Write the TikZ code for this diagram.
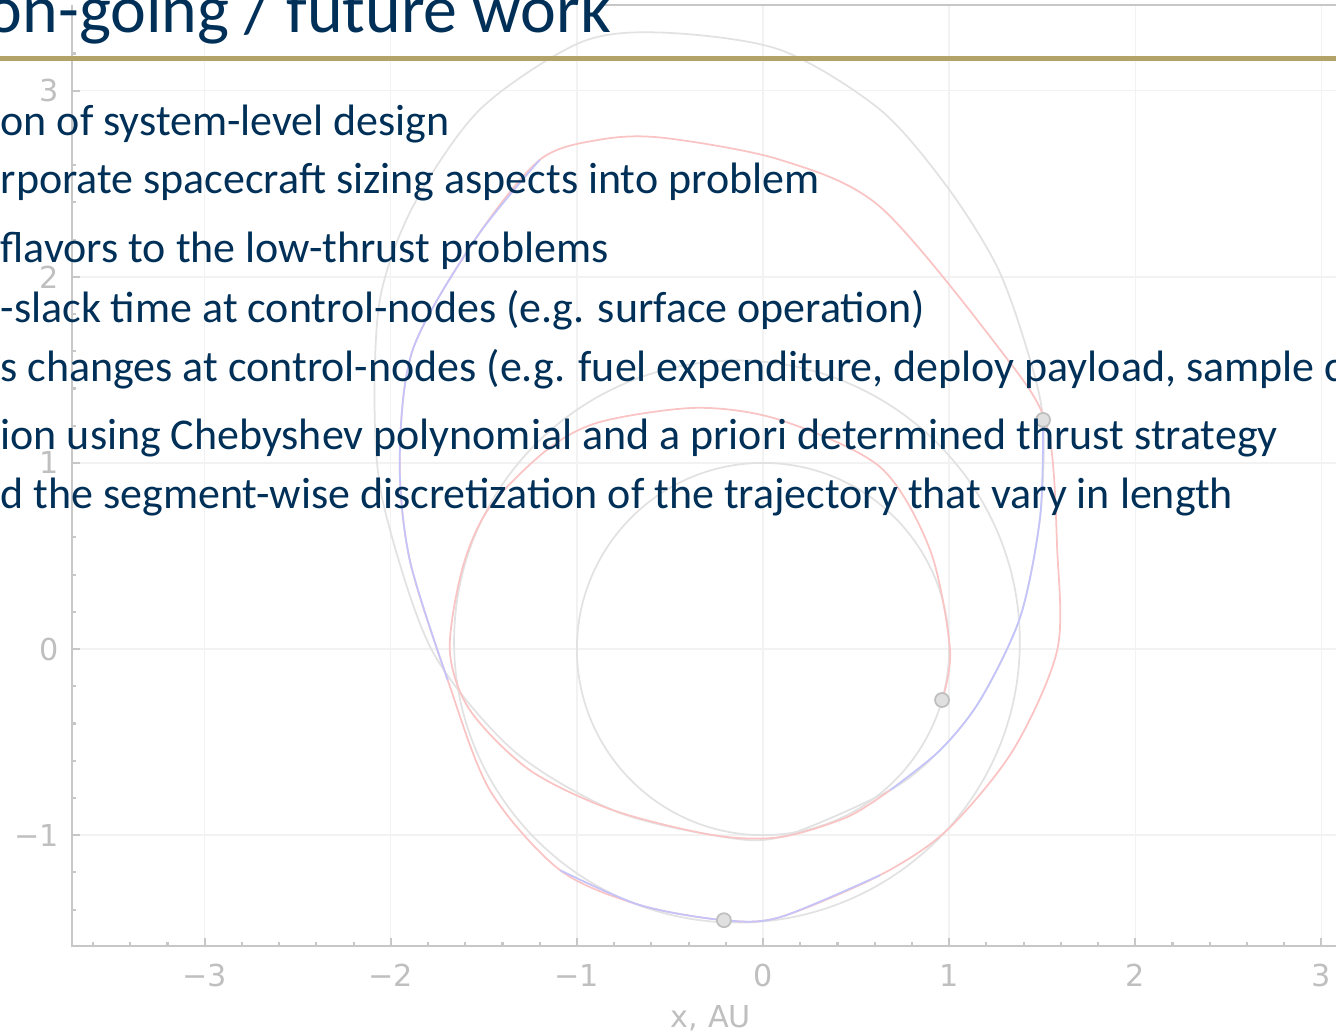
\documentclass[tikz,border=0pt]{standalone}
\usepackage{fontspec}
\setmainfont{Carlito}
\newfontfamily\plotfont{DejaVu Sans}
\usepackage{tikz}
\definecolor{gtnavy}{RGB}{0,48,87}
\definecolor{gtgold}{RGB}{179,163,105}
\definecolor{orbitred}{RGB}{250,196,196}
\definecolor{orbitblue}{RGB}{196,196,250}
\definecolor{orbitgray}{RGB}{226,226,226}

\begin{document}
\begin{tikzpicture}
  [x=0.01cm,y=-0.01cm,
   bodytext/.style={font=\fontsize{12.5}{14}\selectfont,text=gtnavy,anchor=base west,inner sep=0pt},
   titletext/.style={font=\fontsize{19.3}{23}\selectfont,text=gtnavy,anchor=base east,inner sep=0pt},
   ticklab/.style={font=\plotfont\fontsize{8.6}{10}\selectfont,text=black!25,inner sep=0pt},
   gridline/.style={black!5,line width=0.4pt},
   axisline/.style={black!22,line width=0.6pt},
   traj/.style={line width=0.5pt},
   dot/.style={draw=black!25,fill=black!12,circle,inner sep=0pt,minimum size=0.14cm,line width=0.5pt}
  ]
  \useasboundingbox (0,0) rectangle (1336,1032);

  % trajectory plot, in AU
  \begin{scope}[shift={(763,649)},x=1.86cm,y=1.86cm]
    \foreach \i in {-3,...,3}
      \draw[gridline] (\i,-1.597) -- (\i,3.462);
    \foreach \j in {-1,...,3}
      \draw[gridline] (-3.715,\j) -- (3.2,\j);
    \draw[axisline] (-3.715,3.462) -- (-3.715,-1.597) -- (3.2,-1.597);
    \draw[axisline] (-0.876,3.462) -- (3.2,3.462);
    \foreach \i in {-3.6,-3.4,...,3.15}
      \draw[axisline] (\i,-1.597) -- ++(0,0.025);
    \foreach \i in {-3,...,3}
      \draw[axisline] (\i,-1.597) -- ++(0,0.045);
    \foreach \j in {-1.4,-1.2,...,3.3}
      \draw[axisline] (-3.715,\j) -- ++(0.025,0);
    \foreach \j in {-1,...,3}
      \draw[axisline] (-3.715,\j) -- ++(0.045,0);
    \foreach \i/\s [count=\k] in {-3/−3,-2/−2,-1/−1,0/0,1/1,2/2,3/3}
      \node[ticklab] (xtick\k) at (\i,-1.753) {\s};
    \foreach \j/\s [count=\k] in {-1/−1,0/0,1/1,2/2,3/3}
      \node[ticklab,anchor=east] (ytick\k) at (-3.78,\j) {\s};
    \node[ticklab] (xaxis) at (-0.28,-1.984) {x, AU};

    % planet orbits
    \draw[traj,orbitgray] (0,0) circle (1);
    \draw[traj,orbitgray] (-0.14,0.04) ellipse [x radius=1.52,y radius=1.51];
    \draw[traj,orbitgray] plot[smooth cycle] coordinates {
      (-0.538,3.312) (0.091,3.220) (0.629,2.898) (0.989,2.484) (1.258,2.054)
      (1.419,1.608) (1.505,1.231) (1.489,0.710) (1.382,0.172) (1.167,-0.274)
      (0.952,-0.543) (0.683,-0.758) (0.091,-1.011) (-0.269,-1.0) (-0.806,-0.866)
      (-1.344,-0.543) (-1.780,-0.005) (-2.032,0.747) (-2.086,1.231) (-2.059,1.876)
      (-1.882,2.376) (-1.522,2.898) (-0.984,3.258)};

    % outer loop
    \draw[traj,orbitred] plot[smooth cycle] coordinates {
      (-0.538,2.747) (0.091,2.629) (0.629,2.376) (1.274,1.608) (1.527,1.194)
      (1.581,0.532) (1.581,-0.005) (1.344,-0.543) (0.989,-0.973) (0.629,-1.215)
      (0.091,-1.441) (-0.210,-1.457) (-0.661,-1.376) (-1.091,-1.188) (-1.468,-0.758)
      (-1.694,-0.167) (-1.898,0.478) (-1.952,1.016) (-1.882,1.608) (-1.548,2.199)
      (-1.199,2.629) (-0.876,2.737)};
    \draw[traj,orbitblue] plot[smooth] coordinates {
      (-1.199,2.629) (-1.548,2.199) (-1.882,1.608) (-1.952,1.016) (-1.898,0.478) (-1.694,-0.167)};
    \draw[traj,orbitblue] plot[smooth] coordinates {
      (-1.091,-1.188) (-0.661,-1.376) (-0.210,-1.457) (0.091,-1.441) (0.629,-1.215)};

    % inner spiral and coast
    \draw[traj,orbitred] plot[smooth] coordinates {
      (0.962,-0.274) (1.005,-0.005) (0.898,0.532) (0.629,0.978) (0.091,1.231)
      (-0.355,1.296) (-0.876,1.220) (-1.161,1.070) (-1.468,0.763) (-1.613,0.441)
      (-1.683,-0.005) (-1.575,-0.328) (-1.253,-0.651) (-0.806,-0.866) (-0.269,-1.0)
      (0.091,-1.011) (0.452,-0.903) (0.683,-0.758)};
    \draw[traj,orbitblue] plot[smooth] coordinates {
      (0.683,-0.758) (0.952,-0.543) (1.167,-0.274) (1.382,0.172) (1.489,0.710) (1.505,1.231)};

    \node[dot] (depart) at (0.962,-0.274) {};
    \node[dot] (flyby) at (-0.210,-1.457) {};
    \node[dot] (arrive) at (1.505,1.231) {};
  \end{scope}

  % slide title
  \node[titletext] (title) at (612,32) {on-going / future work};
  \draw[gtgold,line width=0.05cm] (0,58) -- (1336,58);

  % bullets
  \node[bodytext] (l1) at (0,135) {on of system-level design};
  \node[bodytext] (l2) at (0,193) {rporate spacecraft sizing aspects into problem};
  \node[bodytext] (l3) at (0,262) {flavors to the low-thrust problems};
  \node[bodytext] (l4) at (0,322) {-slack time at control-nodes (e.g. surface operation)};
  \node[bodytext] (l5) at (0,381) {s changes at control-nodes (e.g. fuel expenditure, deploy payload, sample c};
  \node[bodytext] (l6) at (0,449) {ion using Chebyshev polynomial and a priori determined thrust strategy};
  \node[bodytext] (l7) at (0,508) {d the segment-wise discretization of the trajectory that vary in length};
\end{tikzpicture}
\end{document}
